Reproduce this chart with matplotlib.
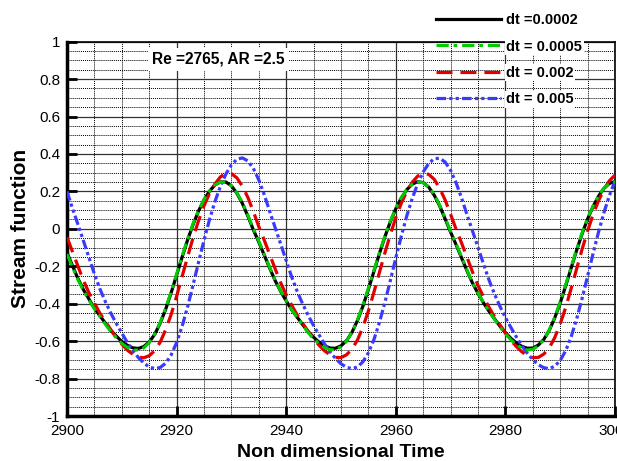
import numpy as np
import matplotlib
matplotlib.use('Agg')
import matplotlib.pyplot as plt
from matplotlib.ticker import MultipleLocator

plt.rcParams['font.family'] = ['Liberation Sans', 'DejaVu Sans']

# time axis, one sample per unit
t_start = 2900
t_end = 3000

psi_0002 = [-0.127,-0.197,-0.266,-0.325,-0.375,-0.424,-0.464,-0.504,-0.543,-0.573,
            -0.602,-0.622,-0.636,-0.639,-0.629,-0.605,-0.564,-0.504,-0.430,-0.342,
            -0.247,-0.152,-0.060,0.023,0.095,0.155,0.201,0.235,0.251,0.250,
            0.230,0.190,0.136,0.068,-0.005,-0.071,-0.141,-0.211,-0.278,-0.335,
            -0.385,-0.432,-0.472,-0.512,-0.549,-0.579,-0.606,-0.625,-0.637,-0.638,
            -0.625,-0.598,-0.553,-0.490,-0.413,-0.323,-0.228,-0.133,-0.043,0.038,
            0.108,0.165,0.209,0.239,0.252,0.247,0.223,0.180,0.123,0.053,
            -0.018,-0.085,-0.155,-0.225,-0.290,-0.345,-0.395,-0.440,-0.480,-0.520,
            -0.555,-0.585,-0.610,-0.628,-0.638,-0.637,-0.621,-0.591,-0.542,-0.476,
            -0.396,-0.304,-0.209,-0.114,-0.026,0.053,0.120,0.175,0.217,0.243,
            0.253]

psi_0005 = [-0.135,-0.205,-0.272,-0.330,-0.380,-0.428,-0.469,-0.510,-0.550,-0.582,
            -0.612,-0.633,-0.646,-0.648,-0.636,-0.608,-0.563,-0.500,-0.424,-0.336,
            -0.241,-0.146,-0.055,0.027,0.098,0.157,0.202,0.235,0.250,0.248,
            0.230,0.192,0.140,0.073,0.001,-0.066,-0.136,-0.207,-0.275,-0.333,
            -0.384,-0.432,-0.474,-0.515,-0.555,-0.587,-0.614,-0.634,-0.646,-0.646,
            -0.630,-0.600,-0.552,-0.486,-0.407,-0.316,-0.222,-0.128,-0.038,0.042,
            0.111,0.167,0.210,0.239,0.251,0.246,0.224,0.183,0.127,0.058,
            -0.013,-0.080,-0.150,-0.221,-0.287,-0.343,-0.394,-0.441,-0.483,-0.525,
            -0.561,-0.593,-0.618,-0.637,-0.647,-0.644,-0.625,-0.592,-0.540,-0.472,
            -0.390,-0.298,-0.203,-0.109,-0.021,0.057,0.123,0.177,0.218,0.243,
            0.252]

psi_002 = [-0.045,-0.122,-0.200,-0.276,-0.341,-0.397,-0.451,-0.495,-0.539,-0.583,
           -0.616,-0.648,-0.670,-0.685,-0.689,-0.678,-0.651,-0.606,-0.539,-0.458,
           -0.360,-0.255,-0.150,-0.048,0.043,0.123,0.189,0.240,0.278,0.296,
           0.295,0.272,0.228,0.168,0.093,0.012,-0.061,-0.138,-0.215,-0.289,
           -0.353,-0.408,-0.460,-0.504,-0.548,-0.589,-0.622,-0.652,-0.673,-0.687,
           -0.688,-0.673,-0.643,-0.594,-0.524,-0.439,-0.339,-0.234,-0.129,-0.030,
           0.060,0.137,0.200,0.249,0.282,0.297,0.291,0.265,0.217,0.154,
           0.077,-0.002,-0.076,-0.153,-0.231,-0.303,-0.364,-0.419,-0.469,-0.513,
           -0.557,-0.596,-0.629,-0.657,-0.677,-0.688,-0.687,-0.669,-0.636,-0.581,
           -0.508,-0.420,-0.318,-0.213,-0.108,-0.011,0.077,0.151,0.212,0.258,
           0.287]

psi_005 = [0.200,0.109,0.023,-0.064,-0.153,-0.241,-0.321,-0.389,-0.451,-0.506,
           -0.557,-0.607,-0.650,-0.687,-0.717,-0.738,-0.747,-0.741,-0.718,-0.674,
           -0.608,-0.521,-0.417,-0.300,-0.179,-0.061,0.049,0.146,0.228,0.293,
           0.342,0.372,0.379,0.363,0.323,0.261,0.182,0.092,0.005,-0.082,
           -0.170,-0.257,-0.334,-0.401,-0.462,-0.517,-0.567,-0.616,-0.657,-0.693,
           -0.721,-0.740,-0.747,-0.738,-0.710,-0.662,-0.592,-0.501,-0.394,-0.276,
           -0.155,-0.039,0.069,0.163,0.242,0.304,0.349,0.375,0.377,0.357,
           0.312,0.246,0.164,0.075,-0.012,-0.099,-0.188,-0.273,-0.348,-0.414,
           -0.474,-0.527,-0.578,-0.624,-0.665,-0.699,-0.726,-0.742,-0.747,-0.734,
           -0.703,-0.651,-0.576,-0.481,-0.371,-0.252,-0.131,-0.016,0.089,0.180,
           0.256]

labels = ['dt =0.0002', 'dt = 0.0005', 'dt = 0.002', 'dt = 0.005']

time = np.arange(t_start, t_end + 1)

fig = plt.figure(figsize=(6.17, 4.61), dpi=100)
ax = fig.add_axes([0.1086, 0.0976, 0.8882, 0.812])

ax.plot(time, psi_0002, color='black', lw=2.3, ls='-', label=labels[0], zorder=3)
ax.plot(time, psi_0005, color='#00cc00', lw=2.2, ls=(0, (4, 1.6, 1.2, 1.6)), label=labels[1], zorder=4)
ax.plot(time, psi_002, color='#e00000', lw=2.3, ls=(0, (5, 2.5)), label=labels[2], zorder=3)
ax.plot(time, psi_005, color='#3a3aff', lw=2.3, ls=(0, (3, 1, 1, 1, 1, 1)), label=labels[3], zorder=3)

ax.set_xlim(2900, 3000)
ax.set_ylim(-1, 1)
ax.xaxis.set_major_locator(MultipleLocator(20))
ax.xaxis.set_minor_locator(MultipleLocator(5))
ax.yaxis.set_minor_locator(MultipleLocator(0.05))
ax.set_yticks(np.arange(-1, 1.01, 0.2))
ax.set_yticklabels(['-1', '-0.8', '-0.6', '-0.4', '-0.2', '0', '0.2', '0.4', '0.6', '0.8', '1'])

ax.grid(which='major', color='#333333', lw=0.9, ls='-')
ax.grid(which='minor', color='black', lw=0.7, ls=(0, (1, 1)))
ax.set_axisbelow(True)

ax.tick_params(which='major', direction='in', length=7, width=2, labelsize=11, pad=5)
ax.tick_params(axis='x', pad=6)
ax.tick_params(which='minor', length=0)

for side in ['left', 'bottom']:
    ax.spines[side].set_linewidth(2.5)
for side in ['top', 'right']:
    ax.spines[side].set_linewidth(1.2)

ax.set_xlabel('Non dimensional Time', fontsize=14, fontweight='bold', labelpad=4)
ax.set_ylabel('Stream function', fontsize=15, fontweight='bold', labelpad=3)

ax.text(0.155, 0.953, 'Re =2765, AR =2.5', transform=ax.transAxes, fontsize=11.2,
        fontweight='bold', va='center', ha='left',
        bbox=dict(facecolor='white', edgecolor='none', pad=3), zorder=5)

leg = fig.legend(loc='upper right', bbox_to_anchor=(0.965, 1.0), frameon=False,
                 prop={'weight': 'bold', 'size': 10.5}, handlelength=4.5,
                 handletextpad=0.35, labelspacing=0.85)
for txt in leg.get_texts():
    txt.set_bbox(dict(facecolor='white', edgecolor='none', pad=1))

plt.savefig('out.png', dpi=100)
